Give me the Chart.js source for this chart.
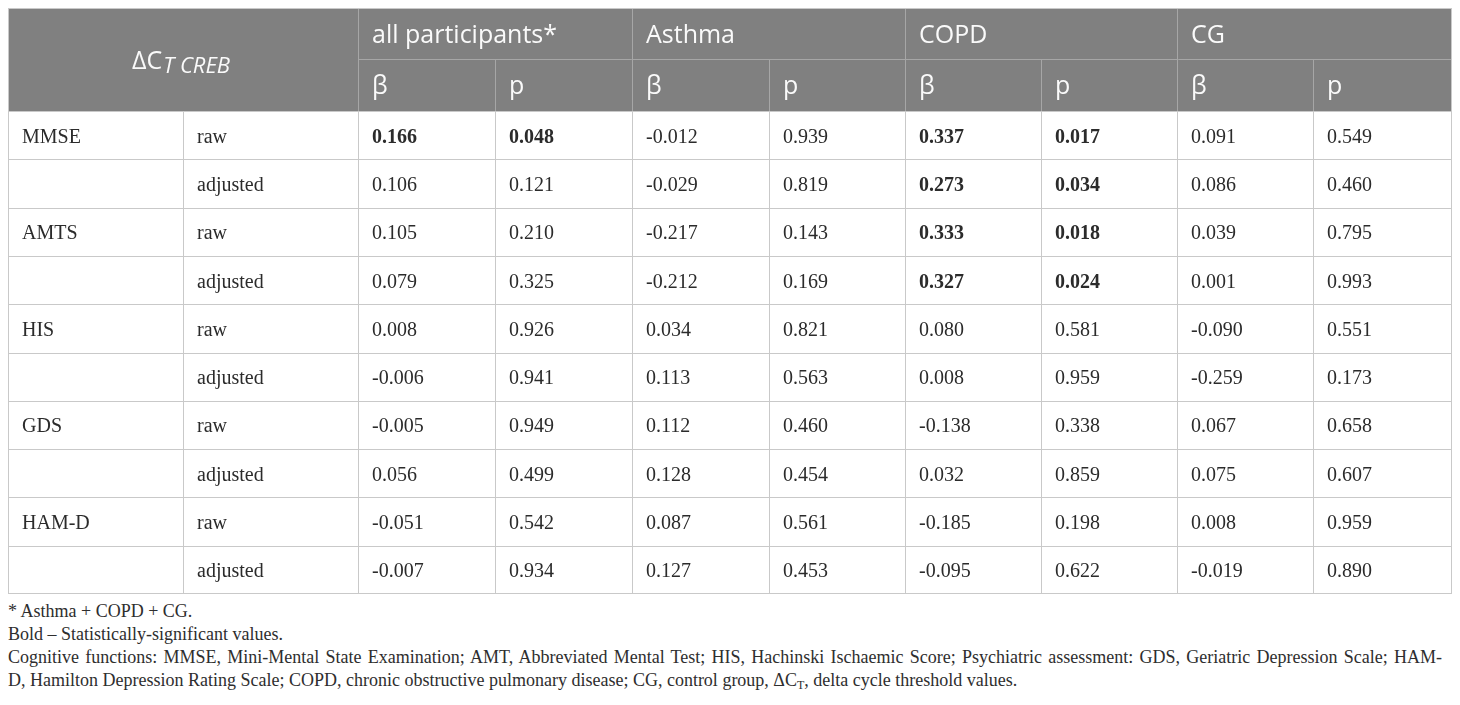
<!DOCTYPE html>
<html><head><meta charset="utf-8">
<script src="https://cdn.jsdelivr.net/npm/chart.js@4.4.1/dist/chart.umd.min.js"></script>
<style>
html,body{margin:0;padding:0;background:#fff;width:1460px;height:705px;overflow:hidden}
#wrap{position:absolute;left:0;top:0;width:1460px;height:600px}
#notes{position:absolute;left:8px;top:600px;width:1444px;font-family:"Liberation Serif","Times New Roman",serif;font-size:18px;line-height:23px;color:#2e2e2e}
#notes div{white-space:nowrap}
#notes sub{font-size:12px;vertical-align:baseline;position:relative;top:3px}
</style></head><body>
<div id="wrap"><canvas id="c" width="1460" height="600"></canvas></div>
<div id="notes">
<div><span id="l1">* Asthma + COPD + CG.</span></div>
<div><span id="l2">Bold – Statistically-significant values.</span></div>
<div><span id="l3">Cognitive functions: MMSE, Mini-Mental State Examination; AMT, Abbreviated Mental Test; HIS, Hachinski Ischaemic Score; Psychiatric assessment: GDS, Geriatric Depression Scale; HAM-</span></div>
<div><span id="l4">D, Hamilton Depression Rating Scale; COPD, chronic obstructive pulmonary disease; CG, control group, ΔC<sub>T</sub>, delta cycle threshold values.</span></div>
</div>
<script>
// ---- data ----
const measures = ['MMSE', 'AMTS', 'HIS', 'GDS', 'HAM-D'];
const models = ['raw', 'adjusted'];
const groups = ['all participants*', 'Asthma', 'COPD', 'CG'];
const statLabels = ['β', 'p'];
const betaAll    = [0.166, 0.106, 0.105, 0.079, 0.008, -0.006, -0.005, 0.056, -0.051, -0.007];
const pAll       = [0.048, 0.121, 0.210, 0.325, 0.926, 0.941, 0.949, 0.499, 0.542, 0.934];
const betaAsthma = [-0.012, -0.029, -0.217, -0.212, 0.034, 0.113, 0.112, 0.128, 0.087, 0.127];
const pAsthma    = [0.939, 0.819, 0.143, 0.169, 0.821, 0.563, 0.460, 0.454, 0.561, 0.453];
const betaCOPD   = [0.337, 0.273, 0.333, 0.327, 0.080, 0.008, -0.138, 0.032, -0.185, -0.095];
const pCOPD      = [0.017, 0.034, 0.018, 0.024, 0.581, 0.959, 0.338, 0.859, 0.198, 0.622];
const betaCG     = [0.091, 0.086, 0.039, 0.001, -0.090, -0.259, 0.067, 0.075, 0.008, -0.019];
const pCG        = [0.549, 0.460, 0.795, 0.993, 0.551, 0.173, 0.658, 0.607, 0.959, 0.890];
const groupBeta = [betaAll, betaAsthma, betaCOPD, betaCG];
const groupP = [pAll, pAsthma, pCOPD, pCG];
const alpha = 0.05;

// ---- layout (relative units on the scales) ----
const colWidths = [175, 175, 137, 137, 137, 136, 136, 136, 136, 139];
const rowHeights = [51, 52, 48.3, 48.3, 48.3, 48.3, 48.3, 48.3, 48.3, 48.3, 48.3, 48.3];
const colEdges = [0]; colWidths.forEach(w => colEdges.push(colEdges[colEdges.length - 1] + w));
const rowEdges = [0]; rowHeights.forEach(h => rowEdges.push(rowEdges[rowEdges.length - 1] + h));
const totalW = colEdges[colEdges.length - 1], totalH = rowEdges[rowEdges.length - 1];
const nBody = measures.length * models.length;

// value cells built from the arrays
const cellPoints = [];
groups.forEach((g, gi) => {
  for (let s = 0; s < 2; s++) {
    for (let r = 0; r < nBody; r++) {
      const c = 2 + gi * 2 + s, row = 2 + r;
      const v = s === 0 ? groupBeta[gi][r] : groupP[gi][r];
      cellPoints.push({ x: (colEdges[c] + colEdges[c + 1]) / 2, y: (rowEdges[row] + rowEdges[row + 1]) / 2,
        col: c, row: row, text: v.toFixed(3), bold: groupP[gi][r] < alpha });
    }
  }
});

const HEADER_BG = '#808080', HEADER_LINE = '#a6a6a6', BODY_LINE = '#c9c9c9';
const SANS = '"Open Sans", "Noto Sans", sans-serif';
const SERIF = '"Liberation Serif", "Times New Roman", serif';
const PAD = 14;

const tablePlugin = {
  id: 'table',
  beforeDatasetsDraw(chart) {
    const ctx = chart.ctx, xs = chart.scales.x, ys = chart.scales.y;
    const X = v => xs.getPixelForValue(v), Y = v => ys.getPixelForValue(v);
    const cx = v => Math.round(X(v)) + 0.5, cy = v => Math.round(Y(v)) + 0.5;
    ctx.save();
    // header background
    ctx.fillStyle = HEADER_BG;
    ctx.fillRect(X(0), Y(0), X(totalW) - X(0), Y(rowEdges[2]) - Y(0));
    ctx.lineWidth = 1;
    // header lines
    ctx.strokeStyle = HEADER_LINE;
    ctx.beginPath();
    ctx.moveTo(X(colEdges[2]), cy(rowEdges[1])); ctx.lineTo(X(totalW), cy(rowEdges[1]));
    for (let c = 2; c < colEdges.length - 1; c++) {
      const top = (c % 2 === 0) ? rowEdges[0] : rowEdges[1];
      ctx.moveTo(cx(colEdges[c]), Y(top)); ctx.lineTo(cx(colEdges[c]), Y(rowEdges[2]));
    }
    ctx.stroke();
    // body lines + outer border
    ctx.strokeStyle = BODY_LINE;
    ctx.beginPath();
    const last = rowEdges.length - 1;
    for (let r = 2; r < rowEdges.length; r++) {
      const yy = cy(rowEdges[r]) - (r === last ? 1 : 0);
      ctx.moveTo(X(0), yy); ctx.lineTo(X(totalW), yy);
    }
    for (let c = 0; c < colEdges.length; c++) {
      const xx = c === colEdges.length - 1 ? cx(colEdges[c]) - 1 : cx(colEdges[c]);
      const top = (c === 0 || c === colEdges.length - 1) ? rowEdges[0] : rowEdges[2];
      ctx.moveTo(xx, Y(top)); ctx.lineTo(xx, Y(totalH));
    }
    ctx.moveTo(X(0), cy(rowEdges[0])); ctx.lineTo(X(totalW), cy(rowEdges[0]));
    ctx.stroke();

    // header texts
    ctx.fillStyle = '#fafafa';
    ctx.textBaseline = 'alphabetic';
    ctx.textAlign = 'left';
    ctx.font = '25px ' + SANS;
    groups.forEach((g, gi) => {
      const c = 2 + gi * 2;
      ctx.fillText(g, X(colEdges[c]) + PAD, (Y(rowEdges[0]) + Y(rowEdges[1])) / 2 + 9);
      statLabels.forEach((s, si) => {
        ctx.fillText(s, X(colEdges[c + si]) + PAD, (Y(rowEdges[1]) + Y(rowEdges[2])) / 2 + 9);
      });
    });
    // merged corner header: ΔC_T CREB
    const mainTxt = 'ΔC', subTxt = 'T CREB';
    ctx.font = '25px ' + SANS; const w1 = ctx.measureText(mainTxt).width;
    ctx.font = 'italic 22px ' + SANS; const w2 = ctx.measureText(subTxt).width;
    const midX = (X(colEdges[0]) + X(colEdges[2])) / 2, midY = (Y(rowEdges[0]) + Y(rowEdges[2])) / 2;
    const startX = midX - (w1 + w2 + 1) / 2 - 2;
    ctx.font = '25px ' + SANS; ctx.fillText(mainTxt, startX, midY + 9.5);
    ctx.font = 'italic 22px ' + SANS; ctx.fillText(subTxt, startX + w1 + 1, midY + 13);

    // first two body columns
    ctx.fillStyle = '#2b2b2b';
    ctx.font = '20px ' + SERIF;
    for (let r = 0; r < nBody; r++) {
      const row = 2 + r, ym = (Y(rowEdges[row]) + Y(rowEdges[row + 1])) / 2 + 7.5;
      if (r % 2 === 0) ctx.fillText(measures[r / 2], X(colEdges[0]) + PAD, ym);
      ctx.fillText(models[r % 2], X(colEdges[1]) + PAD, ym);
    }
    ctx.restore();
  },
  afterDatasetsDraw(chart) {
    const ctx = chart.ctx, xs = chart.scales.x;
    const meta = chart.getDatasetMeta(0);
    ctx.save();
    ctx.fillStyle = '#2b2b2b';
    ctx.textBaseline = 'alphabetic';
    ctx.textAlign = 'left';
    meta.data.forEach((el, i) => {
      const p = cellPoints[i];
      ctx.font = (p.bold ? 'bold ' : '') + '20px ' + SERIF;
      ctx.fillText(p.text, xs.getPixelForValue(colEdges[p.col]) + PAD, el.y + 7.5);
    });
    ctx.restore();
  }
};

new Chart(document.getElementById('c'), {
  type: 'scatter',
  data: { datasets: [{ data: cellPoints, pointRadius: 0, pointHoverRadius: 0, backgroundColor: 'rgba(0,0,0,0)' }] },
  options: {
    responsive: false, animation: false, devicePixelRatio: 1,
    layout: { padding: { left: 8, top: 8, right: 8, bottom: 6 } },
    plugins: { legend: { display: false }, tooltip: { enabled: false } },
    events: [],
    scales: {
      x: { type: 'linear', min: 0, max: totalW, display: false },
      y: { type: 'linear', min: 0, max: totalH, reverse: true, display: false }
    }
  },
  plugins: [tablePlugin]
});

// stretch footnote line 3 to the full width (justified line)
(function () {
  const s = document.getElementById('l3');
  const target = 1434;
  const w = s.getBoundingClientRect().width;
  const spaces = (s.textContent.match(/ /g) || []).length;
  s.style.wordSpacing = ((target - w) / spaces) + 'px';
})();
</script>
</body></html>
